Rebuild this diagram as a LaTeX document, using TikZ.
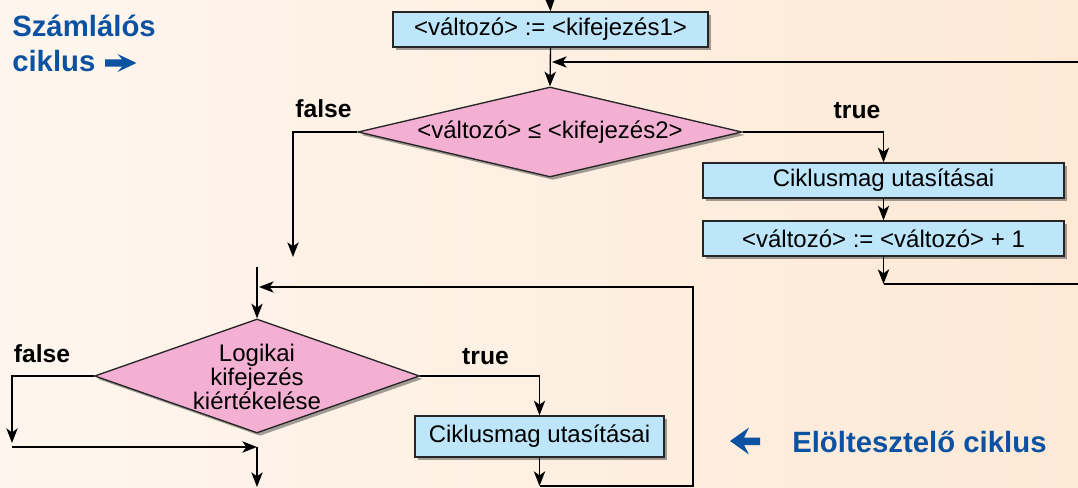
\documentclass[tikz,border=0pt]{standalone}
\usepackage{fontspec}
\setmainfont{Liberation Sans}
\usetikzlibrary{arrows.meta,shapes.geometric,shadows}
\definecolor{bgl}{RGB}{254,246,238}
\definecolor{bgr}{RGB}{253,233,214}
\definecolor{boxc}{RGB}{190,230,250}
\definecolor{diac}{RGB}{243,176,210}
\definecolor{titc}{RGB}{12,82,162}
\tikzset{
  arr/.style={draw=black, line width=1pt, -{Stealth[length=11pt,width=8.5pt,inset=3pt]}},
  ln/.style={draw=black, line width=1pt},
  shad/.style={drop shadow={shadow xshift=2.2pt, shadow yshift=-2.2pt, opacity=0.45, fill=black!80}},
  stepbox/.style={shape=rectangle, draw=black!85, line width=1pt, fill=boxc, inner sep=0pt, shad, font=\fontsize{18}{20}\selectfont},
  decide/.style={shape=diamond, draw=black!85, line width=1pt, fill=diac, inner sep=0pt, shad},
  dtext/.style={align=center, inner sep=0pt, font=\fontsize{18}{15}\selectfont},
  lbl/.style={font=\fontsize{18.5}{20}\selectfont\bfseries, anchor=base, inner sep=0pt},
  tit/.style={font=\fontsize{22}{24}\selectfont\bfseries, text=titc, anchor=base west, inner sep=0pt},
}
\begin{document}
\begin{tikzpicture}[x=0.75pt,y=-0.75pt]
\useasboundingbox (0,0) rectangle (1078,488);
\fill[left color=bgl, right color=bgr] (0,0) rectangle (1078,488);

% titles
\node[tit] (t1) at (12,37) {Számlálós};
\node[tit] (t2) at (12,72) {ciklus};
\fill[titc] (136.5,63) -- (117.5,54) -- (122,59.3) -- (105,59.3) -- (105,66.7) -- (122,66.7) -- (117.5,72) -- cycle;
\node[tit] (t3) at (792,452) {Elöltesztelő ciklus};
\fill[titc] (730,441) -- (749,427.5) -- (744,437.5) -- (760,437.5) -- (760,445) -- (744,445) -- (749,454.5) -- cycle;

% counting loop
\node[stepbox, minimum width=236.25pt, minimum height=26.25pt] (b1) at (550.5,29.5) {<változó> := <kifejezés1>};
\node[decide, minimum width=288pt, minimum height=67.5pt] (d1) at (550,132) {};
\node[dtext] (d1t) at (550,132) {<változó> ≤ <kifejezés2>};
\node[stepbox, minimum width=270.75pt, minimum height=26.25pt] (b2) at (883.5,180.5) {Ciklusmag utasításai};
\node[stepbox, minimum width=270.75pt, minimum height=26.25pt] (b3) at (883.5,238.5) {<változó> := <változó> + 1};

\coordinate (top) at (550,0);
\coordinate (r1) at (1078,62);
\coordinate (m1) at (552,62);
\coordinate (fe1) at (293,257);
\coordinate (c3) at (883.5,284);
\coordinate (r2) at (1078,284);

\draw[arr] (top) -- (b1.north);
\draw[arr] (b1.south) -- (d1.north);
\draw[arr] (r1) -- (m1);
\draw[arr] (d1.west) -| (fe1);
\draw[arr] (d1.east) -| (b2.north);
\draw[arr] (b2.south) -- (b3.north);
\draw[arr] (b3.south) -- (c3);
\draw[ln] (c3) -- (r2);

\node[lbl] (f1) at (323.5,118) {false};
\node[lbl] (tr1) at (857,119) {true};

% pre-test loop
\node[decide, minimum width=243.75pt, minimum height=85.5pt] (d2) at (257,376) {};
\node[dtext] (d2t) at (257,377) {Logikai\\kifejezés\\kiértékelése};
\node[stepbox, minimum width=186.75pt, minimum height=30.75pt] (b4) at (539.5,436.5) {Ciklusmag utasításai};

\coordinate (s2) at (257,267);
\coordinate (m2) at (259,287);
\coordinate (c6) at (693,287);
\coordinate (c4) at (539.5,486);
\coordinate (fe2) at (12,443);
\coordinate (fs2) at (12,447);
\coordinate (m3) at (257,447);
\coordinate (e2) at (257,487);

\draw[arr] (s2) -- (d2.north);
\draw[arr] (d2.east) -| (b4.north);
\draw[arr] (b4.south) -- (c4);
\draw[arr] (c4) -| (c6) -- (m2);
\draw[arr] (d2.west) -| (fe2);
\draw[arr] (fs2) -- (m3);
\draw[arr] (m3) -- (e2);

\node[lbl] (f2) at (42,363) {false};
\node[lbl] (tr2) at (485.5,364) {true};
\end{tikzpicture}
\end{document}
